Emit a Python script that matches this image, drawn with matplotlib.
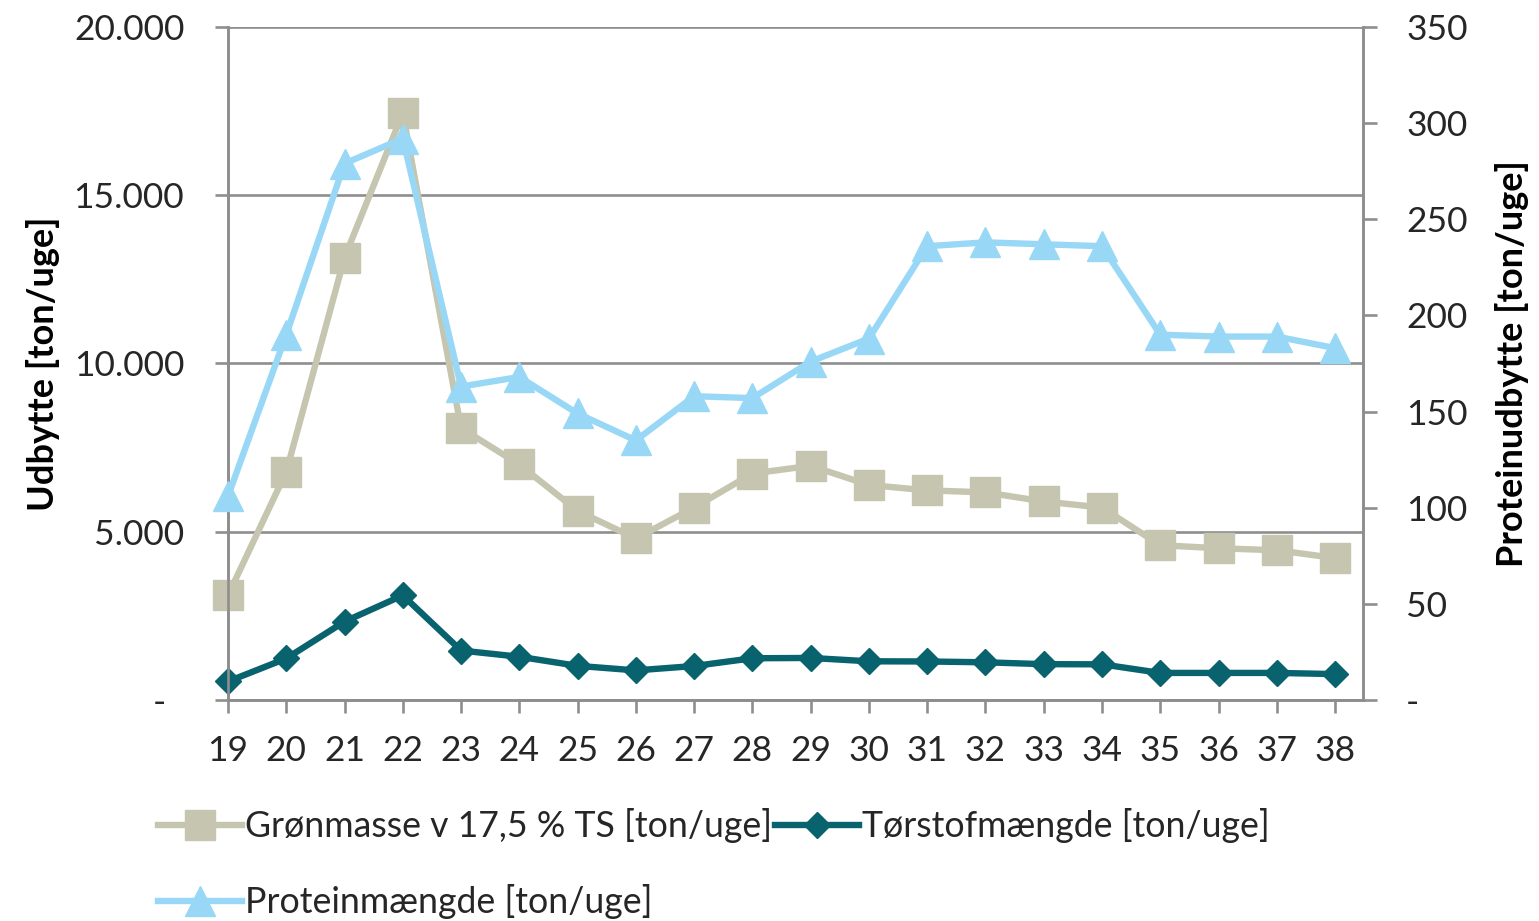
import matplotlib
matplotlib.use("Agg")
import matplotlib.pyplot as plt
from matplotlib.lines import Line2D

weeks = [19, 20, 21, 22, 23, 24, 25, 26, 27, 28, 29, 30, 31, 32, 33, 34, 35, 36, 37, 38]
groenmasse = [3110, 6780, 13150, 17440, 8080, 7000, 5620, 4800, 5720, 6730, 6960, 6390,
              6230, 6170, 5900, 5720, 4600, 4510, 4450, 4220]
toerstof = [550, 1235, 2330, 3110, 1470, 1285, 1015, 880, 1010, 1240, 1250, 1150,
            1145, 1120, 1065, 1060, 805, 805, 805, 770]
protein = [106, 190, 279, 292, 163, 168, 149, 135, 158, 157, 176, 188,
           236, 238, 237, 236, 190, 189, 189, 183]

left_ticks = [0, 5000, 10000, 15000, 20000]
left_labels = ["-  ", "5.000", "10.000", "15.000", "20.000"]
right_ticks = [0, 50, 100, 150, 200, 250, 300, 350]
right_labels = ["-", "50", "100", "150", "200", "250", "300", "350"]

lab_g = "Grønmasse v 17,5 % TS [ton/uge]"
lab_t = "Tørstofmængde [ton/uge]"
lab_p = "Proteinmængde [ton/uge]"

c_g = "#c6c5af"
c_t = "#08636f"
c_p = "#98d8f6"
grid_c = "#8e8e8e"
txt_c = "#262626"

FONT = "Lato"
plt.rcParams["font.family"] = [FONT, "DejaVu Sans"]

fig = plt.figure(figsize=(15.39, 9.21), dpi=100)
ax = fig.add_axes([228 / 1539, 1 - 700 / 921, (1363 - 228) / 1539, (700 - 27) / 921])
ax2 = ax.twinx()

lw = 4.6
ax.plot(weeks, groenmasse, color=c_g, lw=lw, marker="s", ms=21, mec=c_g, mfc=c_g,
        label=lab_g, zorder=3, clip_on=False)
ax.plot(weeks, toerstof, color=c_t, lw=lw, marker="D", ms=13.5, mec=c_t, mfc=c_t,
        label=lab_t, zorder=4, clip_on=False)
ax2.plot(weeks, protein, color=c_p, lw=lw, marker="^", ms=21, mec=c_p, mfc=c_p,
         label=lab_p, zorder=3, clip_on=False)

ax.set_xlim(weeks[0], weeks[-1] + 0.48)
ax.set_ylim(0, 20000)
ax2.set_ylim(0, 350)

ax.set_xticks(weeks)
ax.set_xticklabels([str(w) for w in weeks])
ax.set_yticks(left_ticks)
ax.set_yticklabels(left_labels)
ax2.set_yticks(right_ticks)
ax2.set_yticklabels(right_labels)

ax.yaxis.grid(True, color=grid_c, lw=1.9, zorder=0)
ax.set_axisbelow(True)

for a in (ax, ax2):
    a.spines["top"].set_visible(False)
    for s in ("left", "right", "bottom"):
        a.spines[s].set_color(grid_c)
        a.spines[s].set_linewidth(1.9)

ax.tick_params(axis="y", which="both", length=9.5, width=1.9, color=grid_c, pad=22,
               labelsize=25.5, labelcolor=txt_c)
ax.tick_params(axis="x", length=9, width=1.9, color=grid_c, pad=16,
               labelsize=25.5, labelcolor=txt_c)
ax2.tick_params(axis="y", length=10, width=1.9, color=grid_c, pad=21,
                labelsize=25.5, labelcolor=txt_c)

ax.set_ylabel("Udbytte [ton/uge]", fontsize=26, fontweight="bold", color="black",
              labelpad=10)
ax2.set_ylabel("Proteinudbytte [ton/uge]", fontsize=26, fontweight="bold", color="black",
               labelpad=20)

h_g = Line2D([], [], color=c_g, lw=lw, marker="s", ms=21, mfc=c_g, mec=c_g)
h_t = Line2D([], [], color=c_t, lw=lw, marker="D", ms=13.5, mfc=c_t, mec=c_t)
h_p = Line2D([], [], color=c_p, lw=lw, marker="^", ms=21, mfc=c_p, mec=c_p)
leg = fig.legend([h_g, h_p, h_t], [lab_g, lab_p, lab_t], ncol=2, frameon=False,
                 loc="upper left", bbox_to_anchor=(158 / 1539, 1 - 808 / 921),
                 fontsize=25.7, handlelength=2.35, handletextpad=0.08, columnspacing=0.1,
                 labelspacing=1.15, borderaxespad=0, borderpad=0)
for t in leg.get_texts():
    t.set_color(txt_c)

fig.savefig("out.png", dpi=100)
